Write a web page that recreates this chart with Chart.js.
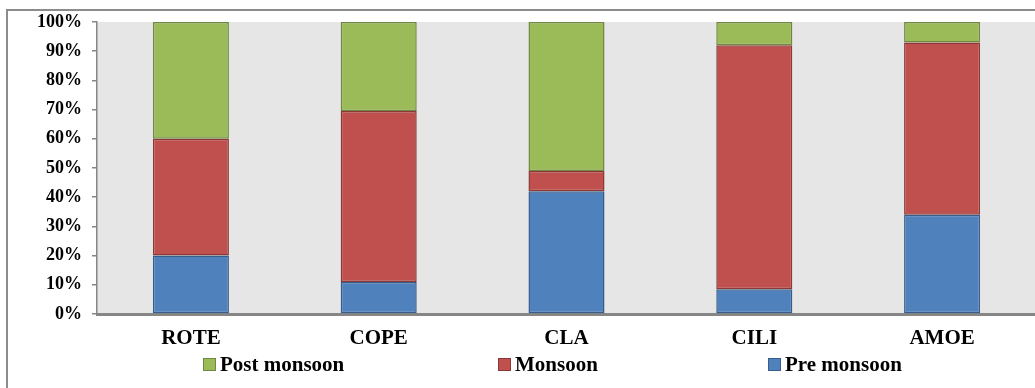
<!DOCTYPE html>
<html>
<head>
<meta charset="utf-8">
<script src="https://cdn.jsdelivr.net/npm/chart.js@4.4.0/dist/chart.umd.min.js"></script>
<style>
  html, body { margin: 0; padding: 0; background: #fff; overflow: hidden; width: 1035px; height: 388px; }
  #wrap { position: absolute; left: 6px; top: 9px; width: 1100px; height: 400px;
          border-left: 2px solid #8c8c8c; border-top: 2px solid #8c8c8c; }
  canvas { position: absolute; left: 0; top: 0; }
  .leg { position: absolute; top: 354px; font: bold 21px "Liberation Serif", "Times New Roman", serif;
         color: #000; white-space: nowrap; line-height: 21px; }
  .leg .box { display: inline-block; width: 11px; height: 11px; margin-right: 4px; vertical-align: 0px; }
</style>
</head>
<body>
<div id="wrap">
  <canvas id="chart" width="1080" height="377"></canvas>
</div>
<div id="legend"></div>
<script>
// categories and series (percent of total)
const categories = ["ROTE", "COPE", "CLA", "CILI", "AMOE"];
const preMonsoon = [20, 11, 42, 8.5, 34];
const monsoon = [40, 58.5, 7, 83.5, 59];
const postMonsoon = [40, 30.5, 51, 8, 7];
const yTicks = [0, 10, 20, 30, 40, 50, 60, 70, 80, 90, 100];

const seriesNames = ["Pre monsoon", "Monsoon", "Post monsoon"];
const fills = ["#4f81bd", "#c0504d", "#9bbb59"];
const edges = ["#385d8a", "#8c3836", "#71893f"];
const seriesData = [preMonsoon, monsoon, postMonsoon];

const fontFamily = '"Liberation Serif", "Times New Roman", serif';

// grey plot background
const plotBg = {
  id: "plotBg",
  beforeDraw(chart) {
    const a = chart.chartArea;
    const ctx = chart.ctx;
    ctx.save();
    ctx.fillStyle = "#e6e6e6";
    ctx.fillRect(a.left, a.top, a.right - a.left, a.bottom - a.top);
    ctx.restore();
  },
};

const ctx = document.getElementById("chart").getContext("2d");
const chart = new Chart(ctx, {
  type: "bar",
  data: {
    labels: categories,
    datasets: seriesData.map((d, i) => ({
      label: seriesNames[i],
      data: d,
      backgroundColor: fills[i],
      borderColor: edges[i],
      borderWidth: 1.5,
      borderSkipped: false,
      barPercentage: 0.405,
      categoryPercentage: 1,
    })),
  },
  options: {
    responsive: false,
    animation: false,
    layout: { padding: { top: 11, right: 52, bottom: 0, left: 0 } },
    plugins: { legend: { display: false }, tooltip: { enabled: false } },
    scales: {
      x: {
        stacked: true,
        afterFit: (s) => { s.height = 74; s.paddingLeft = 0; s.paddingRight = 0; },
        grid: { display: true, drawOnChartArea: false, drawTicks: false, color: "rgba(0,0,0,0)" },
        border: { display: true, color: "#868686", width: 3 },
        ticks: { color: "#000", padding: 12, font: { family: fontFamily, size: 21, weight: "bold" } },
      },
      y: {
        stacked: true,
        min: 0,
        max: 100,
        afterFit: (s) => { s.width = 89; s.paddingTop = 0; s.paddingBottom = 0; },
        afterBuildTicks: (s) => { s.ticks = yTicks.map((v) => ({ value: v })); },
        grid: { drawOnChartArea: false, drawTicks: true, tickLength: 5, color: "#868686", lineWidth: 1.5 },
        border: { display: true, color: "#868686", width: 1.5 },
        ticks: {
          color: "#000",
          padding: 10,
          font: { family: fontFamily, size: 18, weight: "bold" },
          callback: (v) => v + "%",
        },
      },
    },
  },
  plugins: [plotBg],
});

// legend (reverse order as in the original)
const legendLeft = [203, 498, 768];
const legend = document.getElementById("legend");
[2, 1, 0].forEach((idx, k) => {
  const item = document.createElement("div");
  item.className = "leg";
  item.style.left = legendLeft[k] + "px";
  item.innerHTML = '<span class="box" style="background:' + fills[idx] +
    ';border:1px solid ' + edges[idx] + '"></span>' + seriesNames[idx];
  legend.appendChild(item);
});
</script>
</body>
</html>
